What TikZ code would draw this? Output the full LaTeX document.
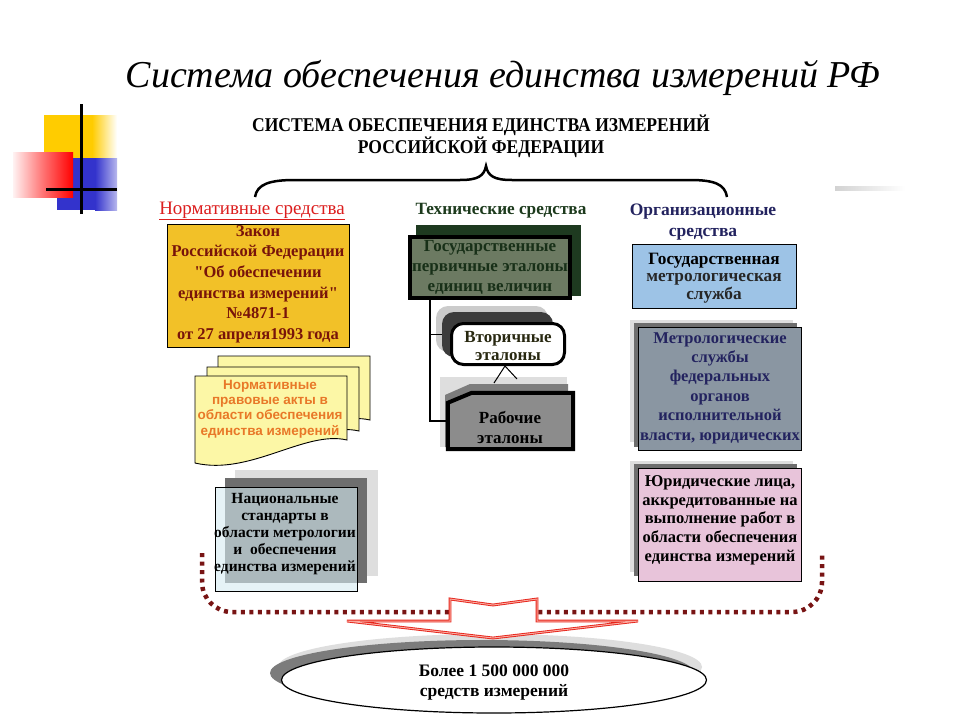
\documentclass[tikz,border=0pt]{standalone}
\usepackage{fontspec}
\setmainfont{Liberation Serif}[Ligatures=TeXOff]
\newfontfamily\condf[FakeStretch=0.9,Ligatures=TeXOff]{Liberation Serif}
\newfontfamily\sansf{Liberation Sans}
\usetikzlibrary{calc,shapes.geometric}
\definecolor{decoY}{RGB}{255,204,0}
\definecolor{decoB}{RGB}{51,51,204}
\definecolor{decoR}{RGB}{255,0,0}
\definecolor{normred}{RGB}{220,30,30}
\definecolor{zakonY}{RGB}{242,193,40}
\definecolor{zakonT}{RGB}{120,20,10}
\definecolor{docY}{RGB}{252,247,166}
\definecolor{docT}{RGB}{232,120,40}
\definecolor{natB}{RGB}{214,236,242}
\definecolor{shadowL}{RGB}{222,222,222}
\definecolor{shadowD}{RGB}{110,110,110}
\definecolor{techgreen}{RGB}{28,58,28}
\definecolor{primSh}{RGB}{30,58,32}
\definecolor{primF}{RGB}{108,122,98}
\definecolor{primT}{RGB}{24,48,24}
\definecolor{secD}{RGB}{60,60,60}
\definecolor{secT}{RGB}{40,40,16}
\definecolor{workD}{RGB}{125,125,125}
\definecolor{workF}{RGB}{140,140,140}
\definecolor{orgnavy}{RGB}{35,35,95}
\definecolor{gmsB}{RGB}{157,195,230}
\definecolor{metroF}{RGB}{138,150,162}
\definecolor{pinkF}{RGB}{232,196,218}
\definecolor{dotR}{RGB}{120,20,20}
\definecolor{arrR}{RGB}{230,35,25}
\definecolor{arrP}{RGB}{250,170,160}
\begin{document}
\begin{tikzpicture}[x=1pt,y=-1pt,
  boxtxt/.style={align=center, inner sep=0pt, font=\bfseries\fontsize{16.5}{#1}\selectfont},
  boxtxt/.default=20,
  thinbox/.style={draw=black, line width=0.9pt, inner sep=0pt},
  dotline/.style={draw=dotR, line width=4.5pt, dash pattern=on 4pt off 4.5pt, rounded corners=30}
]
\fill[white] (0,0) rectangle (960,720);
\useasboundingbox (0,0) rectangle (960,720);

% ---- decoration top left
\fill[decoY] (44,115) rectangle (92,185);
\shade[left color=decoY, right color=white] (92,115) rectangle (117,185);
\fill[decoB] (57,158) rectangle (95,210);
\shade[left color=decoB, right color=decoB!35] (95,158) rectangle (117,210);
\shade[left color=decoR!5, right color=decoR, middle color=decoR!55] (13,152) rectangle (73,197);
\draw[line width=3pt] (81,104) -- (81,214);
\draw[line width=3pt] (46,189) -- (117,189);
\shade[left color=gray!35, right color=white] (835,186) rectangle (905,190);

% ---- titles
\node[font=\itshape\fontsize{38}{40}\selectfont] (title) at (503,78) {Система обеспечения единства измерений РФ};
\node[font=\condf\bfseries\fontsize{19.5}{22}\selectfont, align=center, inner sep=0pt] (head) at (481,136)
  {СИСТЕМА ОБЕСПЕЧЕНИЯ ЕДИНСТВА ИЗМЕРЕНИЙ\\РОССИЙСКОЙ ФЕДЕРАЦИИ};
\draw[line width=2.5pt] (255,197) .. controls (257,184) and (270,180) .. (295,180) -- (460,180)
  .. controls (478,180) and (484,176) .. (486,166) .. controls (488,176) and (494,180) .. (512,180)
  -- (690,180) .. controls (714,180) and (725,184) .. (727,197);

% ---- column labels
\node[text=normred, font=\fontsize{19}{21}\selectfont, inner sep=0pt] (lnorm) at (252,211) {\underline{Нормативные средства}};
\node[text=techgreen, font=\bfseries\fontsize{17.2}{20}\selectfont, inner sep=0pt] (ltech) at (501,211) {Технические средства};
\node[text=orgnavy, font=\bfseries\fontsize{17.5}{21}\selectfont, align=center, inner sep=0pt] (lorg) at (703,222) {Организационные\\средства};

% ---- left column
\node[thinbox, fill=zakonY, minimum width=182, minimum height=123] (zakon) at (258,285.5) {};
\node[boxtxt=20.6, text=zakonT] (zakonT) at (258,284)
  {Закон\\Российской Федерации\\"Об обеспечении\\единства измерений"\\№4871-1\\от 27 апреля1993 года};

\foreach \dx/\dy in {23/-20, 12/-9, 0/0}{
  \filldraw[fill=docY, draw=black, line width=0.9pt]
    (195+\dx,376+\dy) -- (347+\dx,376+\dy) -- (347+\dx,440+\dy)
    .. controls (305+\dx,430+\dy) and (250+\dx,476+\dy) .. (195+\dx,463+\dy) -- cycle;
}
\node[text=docT, font=\sansf\bfseries\fontsize{13.5}{15.3}\selectfont, align=center, inner sep=0pt] (docs) at (270,409)
  {Нормативные\\правовые акты в\\области обеспечения\\единства измерений};

\fill[shadowL] (235,470) rectangle (378,576);
\fill[shadowD] (225,478) rectangle (367,583);
\node[thinbox, fill=natB, fill opacity=0.6, minimum width=142, minimum height=104] (nat) at (286,539) {};
\node[boxtxt=17, font=\bfseries\fontsize{15.5}{17}\selectfont] (natT) at (285,534)
  {Национальные\\стандарты в\\области метрологии\\и~ обеспечения\\единства измерений};

% ---- middle column
\fill[primSh] (416,225) rectangle (581,296);
\node[draw=black, line width=4pt, fill=primF, minimum width=160, minimum height=61, inner sep=0pt] (prim) at (490,267.5) {};
\node[boxtxt=20, font=\bfseries\fontsize{17}{20}\selectfont, text=primT] (primT) at (490,267)
  {Государственные\\первичные эталоны\\единиц величин};

\fill[shadowL!80!gray, rounded corners=12pt] (436,306) rectangle (548,352);
\node[fill=secD, rounded corners=12pt, minimum width=111, minimum height=45, inner sep=0pt] (secsh) at (497.5,334.5) {};
\node[draw=black, line width=3pt, fill=white, rounded corners=12pt, minimum width=113, minimum height=41, inner sep=0pt] (sec) at (508,344) {};
\node[boxtxt=18, font=\bfseries\fontsize{17}{18}\selectfont, text=secT] (secT) at (508,346) {Вторичные\\эталоны};

\fill[shadowL] (440,377) rectangle (567,447);
\fill[workD] (445,395) -- (470,384) -- (568,384) -- (568,447) -- (445,447) -- cycle;
\node[minimum width=125, minimum height=56, inner sep=0pt] (work) at (510.5,421) {};
\filldraw[fill=workF, draw=black, line width=4pt] ([yshift=-10pt]work.north west) -- ([xshift=24pt]work.north west)
  -- (work.north east) -- (work.south east) -- (work.south west) -- cycle;
\node[boxtxt=20, font=\bfseries\fontsize{17}{20}\selectfont] (workT) at (510,427) {Рабочие\\эталоны};

\draw[line width=1.5pt] ([xshift=-60pt]prim.south) |- (secsh.west);
\draw[line width=1.5pt] ([xshift=-60pt]prim.south) |- (work.west);
\draw[line width=1pt] ([xshift=-3pt]sec.south) -- +(-11,17);
\draw[line width=1pt] ([xshift=-3pt]sec.south) -- +(12,13);

% ---- right column
\node[thinbox, fill=gmsB, minimum width=164, minimum height=64] (gms) at (714,276) {};
\node[boxtxt=17.5, font=\bfseries\fontsize{17.3}{17.5}\selectfont] (gmsT) at (714,278)
  {Государственная\\\textcolor{black!85}{метрологическая}\\\textcolor{black!85}{служба}};

\fill[shadowL] (630,320) rectangle (793,442);
\fill[shadowD] (634,323) rectangle (797,447);
\node[thinbox, fill=metroF, minimum width=163, minimum height=123] (metro) at (719.5,388.5) {};
\node[boxtxt=19.4, font=\bfseries\fontsize{16.5}{19.4}\selectfont, text=orgnavy] (metroT) at (720,388)
  {Метрологические\\службы\\федеральных\\органов\\исполнительной\\власти, юридических};

\fill[shadowL] (630,461) rectangle (793,572);
\fill[shadowD] (634,464) rectangle (797,576);
\node[thinbox, fill=pinkF, minimum width=163, minimum height=113] (jur) at (719.5,524.5) {};
\node[boxtxt=18.7, font=\bfseries\fontsize{16.5}{18.7}\selectfont] (jurT) at (720,520)
  {Юридические лица,\\аккредитованные на\\выполнение работ в\\области обеспечения\\единства измерений};

% ---- bottom
\fill[shadowL] (490,667) ellipse [x radius=212, y radius=33];
\fill[shadowD!90] (482,673) ellipse [x radius=212, y radius=33];
\node[draw=black, line width=1.2pt, ellipse, fill=white, minimum width=425, minimum height=66, inner sep=0pt] (ell) at (494,680) {};
\node[boxtxt=20, font=\bfseries\fontsize{17.5}{20}\selectfont] (ellT) at (494,683) {Более 1 500 000 000\\средств измерений};

\draw[dotline] (202,553) -- (202,612) -- (822,612) -- (822,553);

\filldraw[fill=white, draw=arrR, double=arrP, double distance=1pt, line width=0.9pt, line join=miter]
  (450,599) -- (493,605) -- (537,599) -- (537,621) -- (638,621) -- (493,638) -- (347,621) -- (450,621) -- cycle;
\end{tikzpicture}
\end{document}
